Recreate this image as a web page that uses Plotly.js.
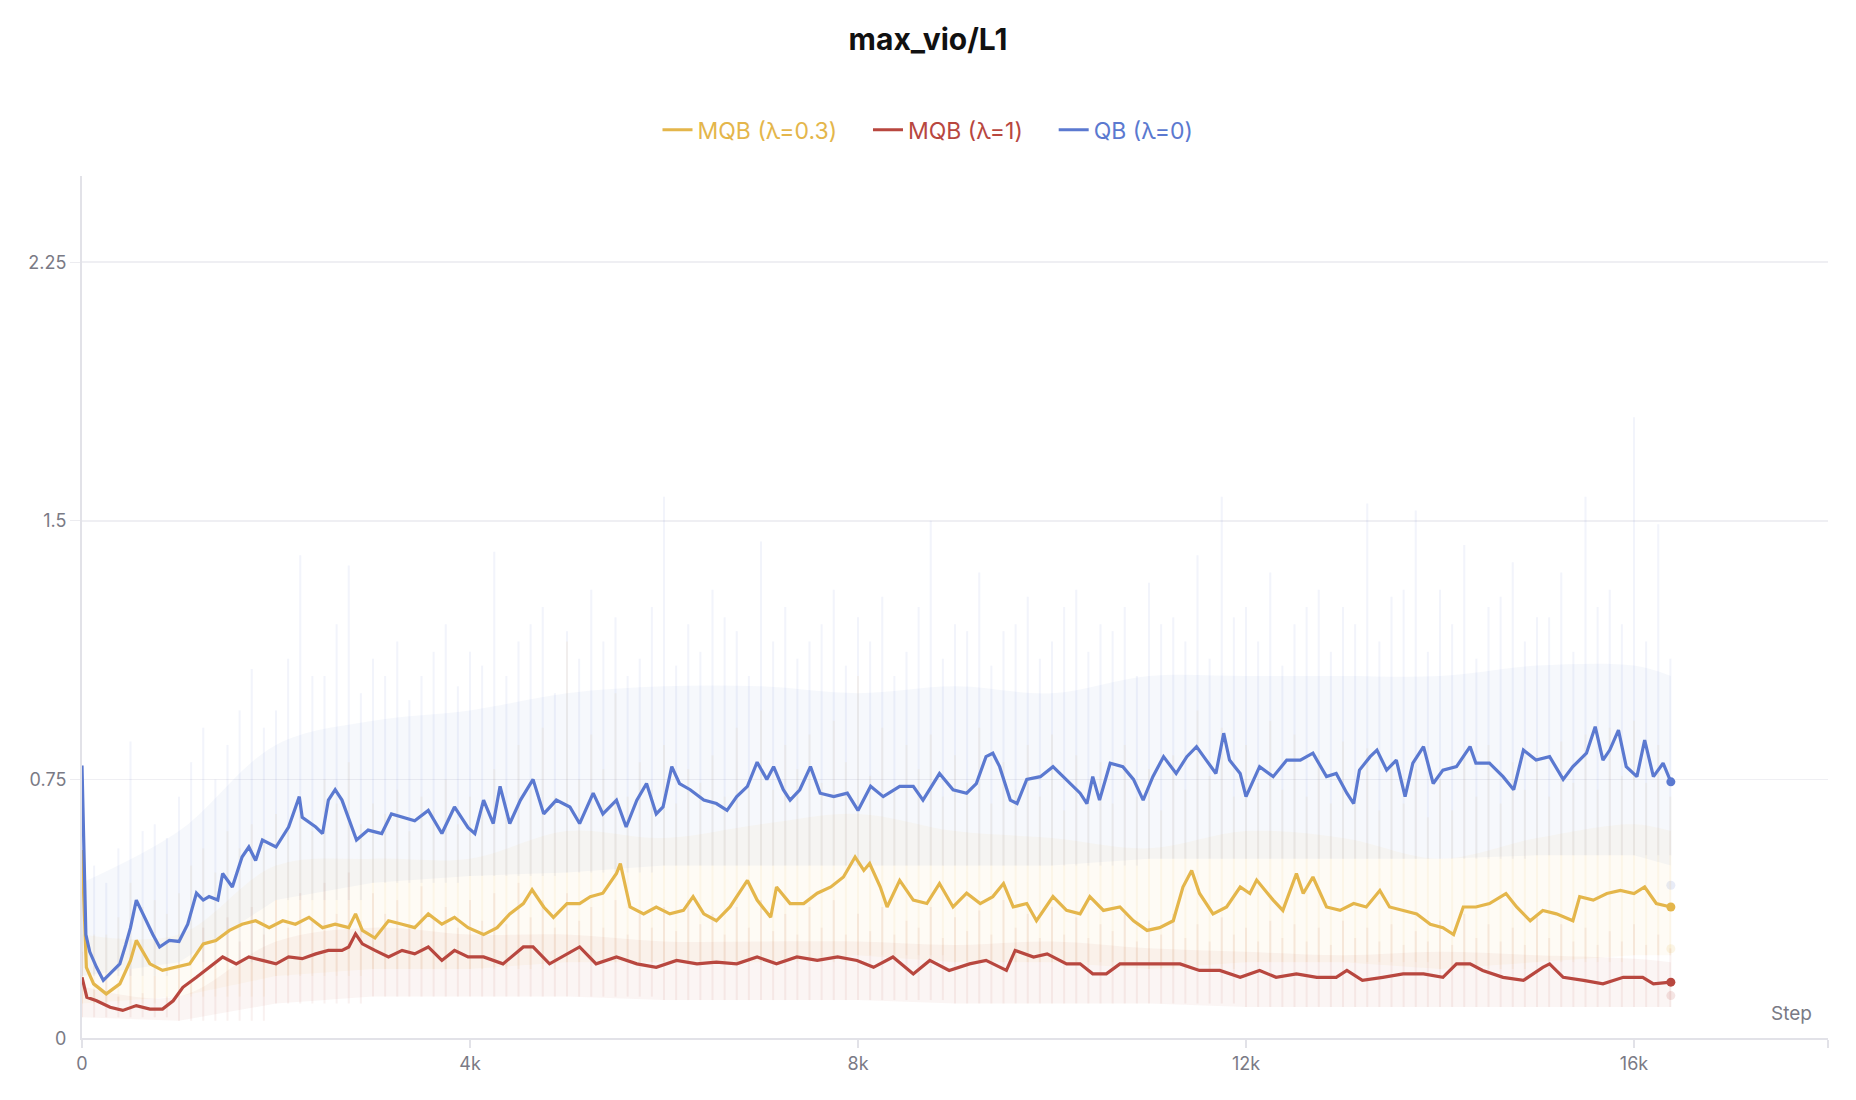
<!DOCTYPE html>
<html>
<head>
<meta charset="utf-8">
<script src="https://cdn.plot.ly/plotly-3.0.1.min.js"></script>
<style>
  body { margin: 0; background: #fff; }
  #chart { width: 1856px; height: 1100px; }
</style>
</head>
<body>
<div id="chart"></div>
<script>
'use strict';

// smoothed curves (step, value)
const stepsQB = [0,20,40,80,150,220,300,390,450,500,560,610,660,730,800,900,1000,1090,1180,1250,1310,1400,1450,1550,1650,1720,1790,1860,2000,2130,2240,2270,2410,2480,2540,2610,2680,2780,2830,2950,3090,3190,3300,3430,3570,3710,3840,3980,4050,4140,4240,4310,4410,4520,4650,4760,4890,5030,5130,5270,5370,5510,5610,5720,5820,5920,5990,6080,6160,6270,6410,6540,6650,6750,6860,6960,7060,7130,7230,7300,7400,7510,7610,7750,7890,8000,8130,8260,8430,8570,8670,8840,8980,9120,9220,9320,9390,9460,9570,9640,9740,9880,10010,10150,10290,10360,10420,10490,10600,10730,10840,10940,11040,11150,11280,11390,11490,11590,11690,11770,11830,11940,12000,12140,12280,12420,12560,12690,12830,12930,13040,13110,13170,13280,13350,13450,13550,13640,13720,13830,13930,14030,14170,14310,14370,14510,14650,14760,14860,14990,15130,15270,15370,15510,15600,15680,15750,15840,15920,16030,16110,16200,16300,16380];
const valuesQB = [0.79,0.52,0.30,0.25,0.205,0.167,0.19,0.215,0.27,0.32,0.40,0.37,0.34,0.30,0.264,0.283,0.28,0.33,0.42,0.40,0.41,0.40,0.477,0.438,0.525,0.554,0.515,0.574,0.554,0.612,0.70,0.64,0.612,0.593,0.69,0.72,0.69,0.61,0.574,0.603,0.593,0.65,0.64,0.63,0.66,0.593,0.67,0.61,0.593,0.69,0.622,0.73,0.622,0.69,0.75,0.65,0.69,0.67,0.622,0.71,0.65,0.69,0.612,0.69,0.738,0.65,0.67,0.787,0.738,0.72,0.69,0.68,0.66,0.70,0.73,0.80,0.75,0.787,0.72,0.69,0.72,0.787,0.71,0.70,0.71,0.66,0.73,0.70,0.73,0.73,0.69,0.767,0.72,0.71,0.738,0.816,0.826,0.787,0.69,0.68,0.75,0.758,0.787,0.75,0.71,0.68,0.758,0.69,0.797,0.787,0.75,0.69,0.758,0.816,0.767,0.816,0.845,0.806,0.767,0.884,0.806,0.767,0.70,0.787,0.758,0.806,0.806,0.826,0.758,0.767,0.71,0.68,0.777,0.816,0.835,0.777,0.806,0.70,0.797,0.845,0.738,0.777,0.787,0.845,0.797,0.797,0.758,0.72,0.835,0.806,0.816,0.75,0.787,0.826,0.903,0.806,0.835,0.893,0.787,0.758,0.864,0.758,0.797,0.743];

const stepsMQB03 = [0,20,45,120,250,390,500,560,700,830,970,1110,1250,1380,1520,1650,1790,1930,2070,2200,2340,2480,2610,2750,2820,2890,3020,3160,3300,3430,3570,3710,3840,3980,4140,4280,4410,4550,4640,4760,4860,5000,5130,5240,5370,5510,5550,5650,5790,5920,6060,6200,6300,6410,6540,6680,6860,6960,7100,7160,7300,7440,7580,7720,7850,7970,8060,8120,8230,8300,8430,8570,8710,8840,8980,9120,9260,9390,9500,9600,9740,9840,10010,10150,10290,10390,10530,10700,10840,10980,11110,11250,11350,11440,11520,11660,11800,11940,12040,12110,12280,12380,12520,12590,12690,12830,12970,13110,13240,13380,13480,13620,13760,13900,14030,14140,14240,14370,14510,14680,14790,14930,15060,15200,15370,15440,15580,15720,15860,16000,16110,16230,16380];
const valuesMQB03 = [0.545,0.40,0.205,0.157,0.128,0.157,0.225,0.283,0.215,0.196,0.205,0.215,0.273,0.283,0.312,0.33,0.34,0.32,0.34,0.33,0.35,0.32,0.33,0.32,0.36,0.312,0.29,0.34,0.33,0.32,0.36,0.33,0.35,0.32,0.30,0.32,0.36,0.39,0.43,0.38,0.35,0.39,0.39,0.41,0.42,0.477,0.506,0.38,0.36,0.38,0.36,0.37,0.41,0.36,0.34,0.38,0.457,0.40,0.35,0.438,0.39,0.39,0.42,0.438,0.467,0.525,0.486,0.506,0.438,0.38,0.457,0.40,0.39,0.448,0.38,0.42,0.39,0.41,0.448,0.38,0.39,0.34,0.41,0.37,0.36,0.41,0.37,0.38,0.34,0.312,0.32,0.34,0.438,0.486,0.42,0.36,0.38,0.438,0.419,0.458,0.40,0.37,0.477,0.419,0.467,0.38,0.37,0.39,0.38,0.428,0.38,0.37,0.36,0.33,0.32,0.30,0.38,0.38,0.39,0.419,0.38,0.34,0.37,0.36,0.34,0.41,0.40,0.419,0.428,0.419,0.438,0.39,0.38];

const stepsMQB1 = [0,50,150,290,420,560,700,830,940,1040,1180,1310,1450,1590,1720,1860,2000,2130,2270,2410,2540,2680,2750,2820,2890,3020,3160,3300,3430,3570,3710,3840,3980,4140,4340,4550,4650,4820,5000,5130,5300,5510,5720,5920,6130,6340,6540,6750,6960,7160,7370,7580,7790,7990,8160,8360,8570,8740,8940,9150,9320,9530,9620,9810,9950,10150,10290,10420,10560,10700,10900,11110,11320,11520,11730,11940,12140,12310,12520,12730,12930,13040,13200,13410,13620,13830,14030,14170,14310,14440,14650,14860,15060,15130,15270,15480,15680,15890,16090,16200,16380];
const valuesMQB1 = [0.176,0.118,0.108,0.089,0.08,0.094,0.084,0.084,0.108,0.147,0.176,0.205,0.235,0.215,0.235,0.225,0.215,0.235,0.23,0.244,0.254,0.254,0.264,0.302,0.273,0.254,0.235,0.254,0.244,0.264,0.225,0.254,0.235,0.235,0.215,0.264,0.264,0.215,0.244,0.264,0.215,0.235,0.215,0.205,0.225,0.215,0.22,0.215,0.235,0.215,0.235,0.225,0.235,0.225,0.205,0.235,0.186,0.225,0.196,0.215,0.225,0.196,0.254,0.235,0.244,0.215,0.215,0.186,0.186,0.215,0.215,0.215,0.215,0.196,0.196,0.176,0.196,0.176,0.186,0.176,0.176,0.196,0.167,0.176,0.186,0.186,0.176,0.215,0.215,0.196,0.176,0.167,0.205,0.215,0.176,0.167,0.157,0.176,0.176,0.157,0.162];

// raw (unsmoothed) runs: spike tops every 125 steps
const spikeSteps = [0,125,250,375,500,625,750,875,1000,1125,1250,1375,1500,1625,1750,1875,2000,2125,2250,2375,2500,2625,2750,2875,3000,3125,3250,3375,3500,3625,3750,3875,4000,4125,4250,4375,4500,4625,4750,4875,5000,5125,5250,5375,5500,5625,5750,5875,6000,6125,6250,6375,6500,6625,6750,6875,7000,7125,7250,7375,7500,7625,7750,7875,8000,8125,8250,8375,8500,8625,8750,8875,9000,9125,9250,9375,9500,9625,9750,9875,10000,10125,10250,10375,10500,10625,10750,10875,11000,11125,11250,11375,11500,11625,11750,11875,12000,12125,12250,12375,12500,12625,12750,12875,13000,13125,13250,13375,13500,13625,13750,13875,14000,14125,14250,14375,14500,14625,14750,14875,15000,15125,15250,15375,15500,15625,15750,15875,16000,16125,16250,16375];
const spikeQB = [0.79,0.50,0.45,0.55,0.86,0.60,0.62,0.58,0.70,0.80,0.90,0.75,0.85,0.95,1.07,0.90,0.95,1.10,1.40,1.05,1.05,1.20,1.37,1.00,1.10,1.05,1.15,0.98,1.05,1.12,1.20,1.02,1.12,1.08,1.41,1.05,1.15,1.20,1.25,1.00,1.18,1.10,1.30,1.15,1.22,1.05,1.10,1.25,1.57,1.08,1.20,1.12,1.30,1.22,1.18,1.05,1.44,1.15,1.25,1.10,1.15,1.20,1.30,1.08,1.22,1.15,1.28,1.05,1.12,1.25,1.50,1.10,1.20,1.18,1.35,1.08,1.18,1.20,1.28,1.10,1.15,1.25,1.30,1.12,1.20,1.18,1.25,1.05,1.32,1.20,1.22,1.15,1.40,1.10,1.57,1.22,1.25,1.15,1.35,1.08,1.20,1.25,1.30,1.12,1.25,1.20,1.55,1.15,1.28,1.30,1.53,1.12,1.30,1.20,1.43,1.10,1.25,1.28,1.38,1.15,1.22,1.22,1.35,1.12,1.57,1.25,1.30,1.20,1.80,1.15,1.49,1.10];
const spikeMQB03 = [0.55,0.30,0.30,0.35,0.45,0.38,0.40,0.36,0.42,0.50,0.55,0.48,0.60,0.55,0.62,0.58,0.65,0.62,0.70,0.60,0.75,0.68,0.80,0.62,0.68,0.65,0.72,0.60,0.70,0.66,0.75,0.62,0.70,0.68,0.78,0.65,0.85,0.72,0.90,0.70,1.15,0.75,0.88,0.78,1.00,0.70,0.80,0.72,0.85,0.68,0.78,0.74,0.82,0.70,0.90,0.75,0.95,0.72,0.85,0.78,0.88,0.74,0.92,0.80,1.05,0.76,0.90,0.72,0.85,0.78,0.88,0.70,0.82,0.74,0.90,0.68,0.80,0.72,0.85,0.70,0.88,0.66,0.82,0.72,0.80,0.68,0.85,0.70,0.78,0.66,0.82,0.72,0.95,0.76,0.90,0.70,0.85,0.74,0.92,0.72,0.88,0.70,0.82,0.68,0.86,0.72,0.84,0.66,0.80,0.68,0.78,0.64,0.75,0.66,0.82,0.70,0.85,0.68,0.80,0.72,0.82,0.70,0.86,0.74,0.88,0.72,0.90,0.76,0.92,0.74,0.85,0.70];
const spikeMQB1 = [0.25,0.14,0.18,0.12,0.20,0.13,0.18,0.12,0.22,0.16,0.32,0.22,0.35,0.28,0.38,0.30,0.40,0.32,0.42,0.34,0.45,0.36,0.48,0.34,0.42,0.36,0.40,0.33,0.44,0.35,0.38,0.32,0.40,0.34,0.42,0.33,0.45,0.35,0.40,0.32,0.42,0.34,0.38,0.32,0.40,0.30,0.36,0.32,0.38,0.31,0.40,0.33,0.36,0.30,0.38,0.32,0.40,0.31,0.36,0.30,0.38,0.32,0.40,0.30,0.36,0.31,0.38,0.30,0.34,0.32,0.38,0.29,0.35,0.31,0.37,0.30,0.40,0.32,0.36,0.29,0.38,0.30,0.35,0.29,0.33,0.31,0.36,0.28,0.34,0.30,0.36,0.29,0.33,0.28,0.35,0.30,0.32,0.28,0.34,0.29,0.33,0.28,0.32,0.27,0.34,0.29,0.32,0.28,0.33,0.27,0.31,0.28,0.34,0.27,0.36,0.29,0.33,0.28,0.32,0.27,0.35,0.29,0.33,0.28,0.32,0.27,0.31,0.28,0.33,0.27,0.30,0.26];
const rawEndStep = 16380;
const rawEndQB = 0.443;
const rawEndMQB03 = 0.259;
const rawEndMQB1 = 0.123;

// dense body of the raw runs (upper / lower edge), every 1000 steps
const bandSteps = [0,1000,2000,3000,4000,5000,6000,7000,8000,9000,10000,11000,12000,13000,14000,15000,16000,16380];
const bandQBHigh = [0.45,0.60,0.85,0.92,0.95,1.00,1.02,1.02,1.00,1.02,1.00,1.05,1.05,1.05,1.05,1.08,1.08,1.05];
const bandQBLow = [0.18,0.22,0.40,0.45,0.47,0.48,0.50,0.50,0.50,0.50,0.50,0.52,0.52,0.52,0.52,0.53,0.53,0.50];
const bandMQB03High = [0.30,0.30,0.50,0.52,0.52,0.60,0.58,0.62,0.65,0.60,0.58,0.55,0.60,0.58,0.52,0.58,0.62,0.60];
const bandMQB03Low = [0.10,0.12,0.18,0.20,0.20,0.22,0.22,0.22,0.24,0.22,0.22,0.20,0.22,0.22,0.20,0.22,0.24,0.24];
const bandMQB1High = [0.15,0.12,0.28,0.32,0.30,0.30,0.28,0.28,0.28,0.27,0.28,0.26,0.25,0.24,0.25,0.24,0.23,0.22];
const bandMQB1Low = [0.06,0.05,0.10,0.12,0.12,0.12,0.11,0.11,0.11,0.10,0.10,0.10,0.09,0.09,0.09,0.09,0.09,0.09];

const xTickVals = [0,4000,8000,12000,16000,18000];
const xTickText = ['0','4k','8k','12k','16k',''];
const yTickVals = [0.75,1.5,2.25];
const yTickText = ['0.75','1.5','2.25'];

const legendGap = '\u00a0\u00a0\u00a0\u00a0';

const runs = [
  {name: 'MQB (λ=0.3)', color: '#e4b64b', rgb: '228,182,75', x: stepsMQB03, y: valuesMQB03,
    spikes: spikeMQB03, rawEnd: rawEndMQB03, hi: bandMQB03High, lo: bandMQB03Low, gap: legendGap},
  {name: 'MQB (λ=1)', color: '#b8473f', rgb: '184,71,63', x: stepsMQB1, y: valuesMQB1,
    spikes: spikeMQB1, rawEnd: rawEndMQB1, hi: bandMQB1High, lo: bandMQB1Low, gap: legendGap},
  {name: 'QB (λ=0)', color: '#5b79d0', rgb: '91,121,208', x: stepsQB, y: valuesQB,
    spikes: spikeQB, rawEnd: rawEndQB, hi: bandQBHigh, lo: bandQBLow, gap: ''}
];

function last(arr) {
  return arr[arr.length - 1];
}

// vertical strokes from the body's lower edge up to each spike top
function spikeTable(r) {
  const xs = [];
  const ys = [];
  spikeSteps.forEach((s, i) => {
    const bottom = r.lo[Math.floor(s / 1000)];
    xs.push(s, s, null);
    ys.push(bottom, r.spikes[i], null);
  });
  return {xs, ys};
}

function drawChart() {
  const traces = [];
  const behind = [runs[2], runs[0], runs[1]];

  // faint raw data first
  behind.forEach(r => {
    traces.push({x: bandSteps, y: r.lo, mode: 'lines', line: {width: 0, color: 'rgba(0,0,0,0)'},
      showlegend: false, hoverinfo: 'skip'});
    traces.push({x: bandSteps, y: r.hi, mode: 'lines', line: {width: 0, shape: 'spline', color: 'rgba(0,0,0,0)'},
      fill: 'tonexty', fillcolor: `rgba(${r.rgb},0.055)`, showlegend: false, hoverinfo: 'skip'});
    const t = spikeTable(r);
    traces.push({x: t.xs, y: t.ys, mode: 'lines', line: {width: 2, color: `rgba(${r.rgb},0.08)`},
      connectgaps: false, showlegend: false, hoverinfo: 'skip'});
    traces.push({x: [rawEndStep], y: [r.rawEnd], mode: 'markers',
      marker: {size: 9, color: `rgba(${r.rgb},0.14)`}, showlegend: false, hoverinfo: 'skip'});
  });

  // smoothed lines
  runs.forEach(r => {
    traces.push({x: r.x, y: r.y, mode: 'lines', name: `<span style="color:${r.color}">${r.name}${r.gap}</span>`,
      line: {width: 3.2, color: r.color}});
  });
  runs.forEach(r => {
    traces.push({x: [last(r.x)], y: [last(r.y)], mode: 'markers',
      marker: {size: 9, color: r.color}, showlegend: false, hoverinfo: 'skip'});
  });

  const layout = {
    width: 1856,
    height: 1100,
    paper_bgcolor: '#ffffff',
    plot_bgcolor: '#ffffff',
    margin: {l: 82, r: 28, t: 176, b: 62},
    font: {family: 'Inter, "Noto Sans", sans-serif', color: '#7a7a85'},
    title: {
      text: '<b>max_vio/L1</b>',
      font: {family: 'Inter, sans-serif', size: 30, color: '#111111'},
      x: 0.5, xref: 'container', xanchor: 'center',
      y: 0.9645, yref: 'container', yanchor: 'middle'
    },
    showlegend: true,
    legend: {
      orientation: 'h',
      traceorder: 'normal',
      x: 0.5, xref: 'container', xanchor: 'center',
      y: 0.882, yref: 'container', yanchor: 'middle',
      font: {family: 'Inter, sans-serif', size: 23},
      itemclick: false
    },
    xaxis: {
      range: [0, 18000],
      tickvals: xTickVals,
      ticktext: xTickText,
      ticks: 'outside',
      ticklen: 8,
      tickwidth: 1.5,
      tickcolor: '#e2e2e8',
      showgrid: false,
      zeroline: false,
      showline: true,
      linecolor: '#e2e2e8',
      linewidth: 2,
      tickfont: {size: 18, color: '#7a7a85'}
    },
    yaxis: {
      range: [0, 2.5],
      tickvals: yTickVals,
      ticktext: yTickText,
      ticks: 'outside',
      ticklen: 10,
      tickcolor: '#ececf0',
      showgrid: true,
      gridcolor: '#efeff3',
      gridwidth: 1.5,
      zeroline: false,
      showline: true,
      linecolor: '#e2e2e8',
      linewidth: 2,
      tickfont: {size: 18, color: '#7a7a85'}
    },
    annotations: [
      {text: '0', x: 0, xref: 'paper', y: 0, yref: 'y', xanchor: 'right', yanchor: 'middle',
        xshift: -14, showarrow: false, font: {size: 18, color: '#7a7a85'}},
      {text: 'Step', x: 0.979, xref: 'paper', y: 0.028, yref: 'paper', xanchor: 'center', yanchor: 'middle',
        showarrow: false, font: {size: 19, color: '#7a7a85'}}
    ]
  };

  Plotly.newPlot('chart', traces, layout, {displayModeBar: false, staticPlot: true});
}

window.addEventListener('load', () => { drawChart(); });
</script>
</body>
</html>
